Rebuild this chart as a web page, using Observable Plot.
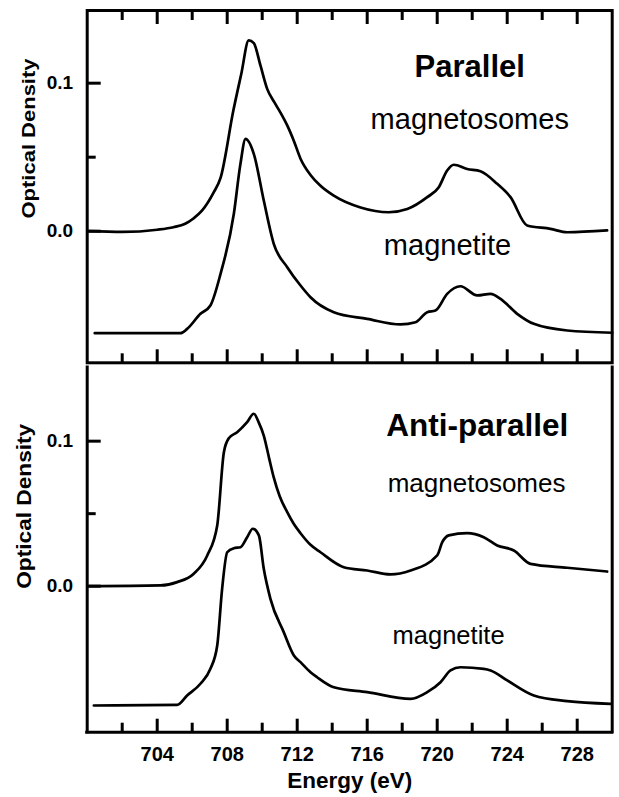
<!DOCTYPE html>
<html>
<head>
<meta charset="utf-8">
<script src="https://cdn.jsdelivr.net/npm/d3@7"></script>
<script src="https://cdn.jsdelivr.net/npm/@observablehq/plot@0.6"></script>
<style>
  body { margin: 0; background: #fff; }
  #chart { width: 619px; height: 797px; }
  #chart svg { display: block; }
</style>
</head>
<body>
<div id="chart"></div>
<script>
// ---- tick values ----
const energyMajorTicks = [704, 708, 712, 716, 720, 724, 728];
const energyMinorTicks = [702, 706, 710, 714, 718, 722, 726];
const odMajorTicks = [0.0, 0.1];
const odMinorTicks = [0.05];

// ---- Parallel: magnetosomes ----
const parMagnetosomesE  = [700.08, 702, 704, 704.93, 705.6, 706.07, 706.57, 707.22, 707.62, 708.36, 708.8, 709.23, 709.52, 709.9, 710.29, 710.7, 711.05, 711.45, 711.81, 712.19, 712.76, 713.3, 714.09, 715.62, 717.23, 718.29, 719.43, 720.09, 720.57, 720.95, 721.71, 722.47, 723.43, 724.19, 725.14, 726.47, 727.43, 729.71];
const parMagnetosomesOD = [0.0, -0.0005, 0.001, 0.0027, 0.005, 0.0086, 0.014, 0.026, 0.036, 0.082, 0.106, 0.1289, 0.127, 0.112, 0.096, 0.087, 0.08, 0.071, 0.061, 0.049, 0.038, 0.031, 0.024, 0.016, 0.0128, 0.015, 0.023, 0.0297, 0.041, 0.0449, 0.042, 0.0405, 0.032, 0.023, 0.0039, 0.0016, -0.0007, 0.0005];

// ---- Parallel: magnetite ----
const parMagnetiteE  = [700.43, 705.33, 705.71, 706.47, 707.04, 707.62, 708.38, 708.75, 709.05, 709.52, 710.09, 710.66, 711.43, 712.19, 712.76, 714.09, 716.0, 717.9, 718.76, 719.43, 719.9, 720.57, 721.33, 722.29, 723.05, 723.62, 724.57, 725.52, 727.43, 730];
const parMagnetiteOD = [-0.0689, -0.0689, -0.066, -0.0558, -0.0502, -0.0288, 0.0118, 0.045, 0.0624, 0.0523, 0.0207, -0.0085, -0.0243, -0.0367, -0.0446, -0.0547, -0.0592, -0.063, -0.0615, -0.0547, -0.0536, -0.0423, -0.0372, -0.0434, -0.0423, -0.0457, -0.0558, -0.0626, -0.0671, -0.0686];

// ---- Anti-parallel: magnetosomes ----
const antiMagnetosomesE  = [700.09, 704.19, 705.14, 706.09, 706.86, 707.43, 707.81, 708.09, 708.57, 709.14, 709.52, 709.8, 710.09, 710.4, 710.66, 711.0, 711.43, 711.8, 712.19, 712.76, 713.33, 714.66, 716.0, 717.33, 718.48, 720.0, 720.29, 720.66, 721.71, 722.66, 723.43, 724.38, 725.33, 727.43, 729.71];
const antiMagnetosomesOD = [0.0, 0.0005, 0.0028, 0.0086, 0.0212, 0.0419, 0.0924, 0.102, 0.1062, 0.1131, 0.1189, 0.113, 0.1039, 0.088, 0.075, 0.062, 0.051, 0.043, 0.0365, 0.0285, 0.0234, 0.0131, 0.0108, 0.0081, 0.0108, 0.0212, 0.0303, 0.035, 0.0366, 0.0338, 0.0281, 0.0246, 0.0154, 0.0127, 0.0101];

// ---- Anti-parallel: magnetite ----
const antiMagnetiteE  = [700.38, 705.14, 705.71, 706.47, 707.04, 707.43, 707.71, 708.0, 708.38, 708.76, 709.14, 709.46, 709.81, 710.09, 710.47, 711.23, 711.81, 712.19, 712.76, 713.14, 714.09, 716.0, 718.48, 719.43, 720.19, 720.76, 721.33, 722.66, 723.05, 724.0, 725.52, 727.43, 729.9];
const antiMagnetiteOD = [-0.0823, -0.0818, -0.0754, -0.0673, -0.057, -0.0409, -0.0018, 0.0234, 0.0262, 0.0269, 0.0338, 0.0396, 0.035, 0.012, -0.0087, -0.0317, -0.0478, -0.0524, -0.0593, -0.0628, -0.0697, -0.0731, -0.0777, -0.0731, -0.0662, -0.0581, -0.0559, -0.057, -0.0581, -0.065, -0.0754, -0.0793, -0.0811];

// ---- text labels ----
const panelTitles   = ["Parallel", "Anti-parallel"];
const seriesNames   = ["magnetosomes", "magnetite"];
const yAxisTitle    = "Optical Density";
const xAxisTitle    = "Energy (eV)";

// ---- helpers ----
const zip = (E, V) => E.map((e, i) => ({E: e, OD: V[i]}));
const FONT = '"Liberation Sans", Arial, Helvetica, sans-serif';
const xDomain = [700, 730];

function tickMarks(withTop) {
  const m = [];
  if (withTop) {
    m.push(Plot.axisX({anchor: "top", ticks: energyMajorTicks, tickSize: -13, strokeWidth: 3, fill: null, label: null}));
    m.push(Plot.axisX({anchor: "top", ticks: energyMinorTicks, tickSize: -9, strokeWidth: 3, fill: null, label: null}));
  }
  m.push(Plot.axisX({anchor: "bottom", ticks: energyMajorTicks, tickSize: -13, strokeWidth: 3, fill: null, label: null}));
  m.push(Plot.axisX({anchor: "bottom", ticks: energyMinorTicks, tickSize: -9, strokeWidth: 3, fill: null, label: null}));
  m.push(Plot.axisY({anchor: "left", ticks: odMajorTicks, tickSize: -14, strokeWidth: 3, fill: null, label: null}));
  m.push(Plot.axisY({anchor: "left", ticks: odMinorTicks, tickSize: -9, strokeWidth: 3, fill: null, label: null}));
  m.push(Plot.text(odMajorTicks, {y: d => d, frameAnchor: "left", dx: -14, textAnchor: "end", lineAnchor: "middle",
                                  text: d3.format(".1f"), fontSize: 19, fontWeight: "bold"}));
  return m;
}

const lineOpts = {x: "E", y: "OD", stroke: "#000", strokeWidth: 2.7, curve: "monotone-x", strokeLinejoin: "round"};

// ---- top panel (Parallel) ----
const topDomain = [-0.0889, 0.1491];
const topPlot = Plot.plot({
  width: 619, height: 364,
  marginLeft: 86.7, marginRight: 7.3, marginTop: 10, marginBottom: 1.7,
  x: {domain: xDomain},
  y: {domain: topDomain},
  style: {fontFamily: FONT, color: "#000", background: "transparent", overflow: "visible"},
  marks: [
    ...tickMarks(true),
    Plot.line(zip(parMagnetosomesE, parMagnetosomesOD), lineOpts),
    Plot.line(zip(parMagnetiteE, parMagnetiteOD), lineOpts),
    Plot.frame({stroke: "#000", strokeWidth: 3}),
    Plot.text([panelTitles[0]], {x: 721.86, y: 0.1107, text: d => d, fontSize: 31, fontWeight: "bold", lineAnchor: "middle"}),
    Plot.text([seriesNames[0]], {x: 721.86, y: 0.0755, text: d => d, fontSize: 29, lineAnchor: "middle"}),
    Plot.text([seriesNames[1]], {x: 720.59, y: -0.0101, text: d => d, fontSize: 29, lineAnchor: "middle"}),
    Plot.text([yAxisTitle], {frameAnchor: "left", y: 0.0086, dx: -58.7, rotate: -90, text: d => d, textAnchor: "start",
                             fontSize: 19, fontWeight: "bold", lineAnchor: "middle"})
  ]
});

// ---- bottom panel (Anti-parallel) ----
const botDomain = [-0.1007, 0.1508];
const botPlot = Plot.plot({
  width: 619, height: 433,
  marginLeft: 86.7, marginRight: 7.3, marginTop: 3, marginBottom: 65.3,
  x: {domain: xDomain},
  y: {domain: botDomain},
  style: {fontFamily: FONT, color: "#000", background: "transparent", overflow: "visible"},
  marks: [
    ...tickMarks(false),
    Plot.text(energyMajorTicks, {x: d => d, frameAnchor: "bottom", dy: 22, lineAnchor: "middle", text: d => String(d),
                                 fontSize: 20, fontWeight: "bold"}),
    Plot.line(zip(antiMagnetosomesE, antiMagnetosomesOD), lineOpts),
    Plot.line(zip(antiMagnetiteE, antiMagnetiteOD), lineOpts),
    Plot.ruleX(xDomain, {stroke: "#000", strokeWidth: 3, strokeLinecap: "square"}),
    Plot.ruleY([botDomain[0]], {stroke: "#000", strokeWidth: 3, strokeLinecap: "square"}),
    Plot.text([panelTitles[1]], {x: 722.29, y: 0.1108, text: d => d, fontSize: 31.5, fontWeight: "bold", lineAnchor: "middle"}),
    Plot.text([seriesNames[0]], {x: 722.25, y: 0.0706, text: d => d, fontSize: 26, lineAnchor: "middle"}),
    Plot.text([seriesNames[1]], {x: 720.65, y: -0.0341, text: d => d, fontSize: 25.5, lineAnchor: "middle"}),
    Plot.text([yAxisTitle], {frameAnchor: "left", y: -0.0018, dx: -62.7, rotate: -90, text: d => d, textAnchor: "start",
                             fontSize: 19.5, fontWeight: "bold", lineAnchor: "middle"}),
    Plot.text([xAxisTitle], {frameAnchor: "bottom", dy: 49, text: d => d, fontSize: 22.5, fontWeight: "bold", lineAnchor: "middle"})
  ]
});

// stretch the rotated axis titles to the length they have in the figure
function fitTitle(svg, len) {
  d3.select(svg).selectAll("text").filter(function() { return this.textContent === yAxisTitle; })
    .attr("textLength", len).attr("lengthAdjust", "spacingAndGlyphs");
}
fitTitle(topPlot, 160);
fitTitle(botPlot, 165);

const root = document.getElementById("chart");
root.appendChild(topPlot);
root.appendChild(botPlot);
</script>
</body>
</html>
